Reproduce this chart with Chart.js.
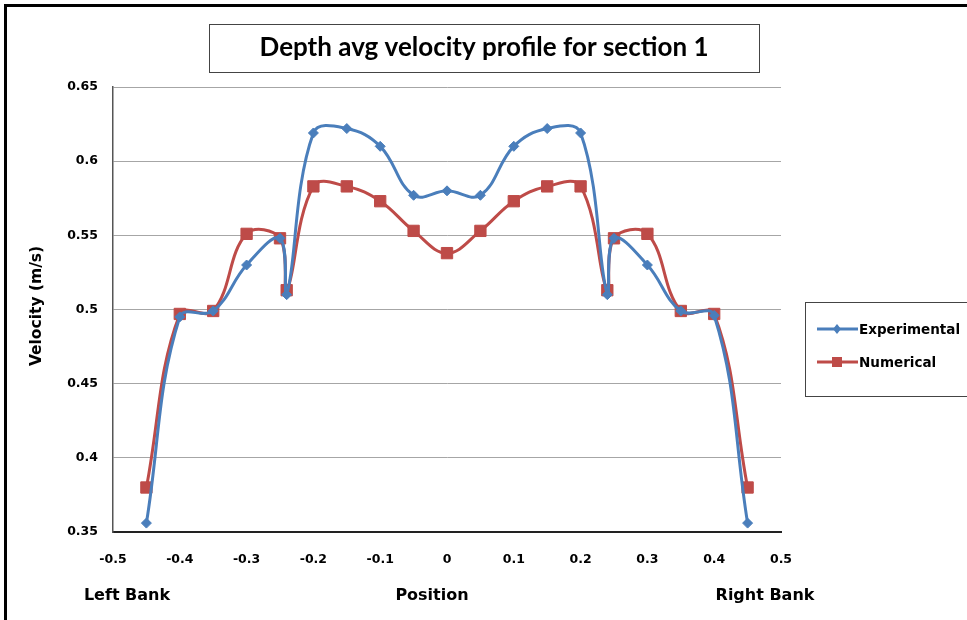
<!DOCTYPE html>
<html>
<head>
<meta charset="utf-8">
<script src="https://cdn.jsdelivr.net/npm/chart.js@4"></script>
<style>
  html, body { margin: 0; padding: 0; background: #fff; }
  canvas { display: block; }
</style>
</head>
<body>
<canvas id="profil" width="967" height="620"></canvas>
<script>
// titik ukur melintang saluran (posisi) dan kecepatan rata-rata kedalaman
const posisi = [-0.45, -0.4, -0.35, -0.3, -0.25, -0.24, -0.2, -0.15, -0.1, -0.05, 0,
                0.05, 0.1, 0.15, 0.2, 0.24, 0.25, 0.3, 0.35, 0.4, 0.45];
const eksperimen = [0.356, 0.495, 0.499, 0.530, 0.548, 0.510, 0.619, 0.622, 0.610, 0.577, 0.580,
                    0.577, 0.610, 0.622, 0.619, 0.510, 0.548, 0.530, 0.499, 0.496, 0.356];
const numerik = [0.380, 0.497, 0.499, 0.551, 0.548, 0.513, 0.583, 0.583, 0.573, 0.553, 0.538,
                 0.553, 0.573, 0.583, 0.583, 0.513, 0.548, 0.551, 0.499, 0.497, 0.380];
const namaSeri = ['Experimental', 'Numerical'];
const labelBawah = ['Left Bank', 'Position', 'Right Bank'];

const biru = '#4a7ebb';
const merah = '#be4b48';
const FONT = '"DejaVu Sans", sans-serif';
const FONT_JUDUL = 'Lato, "Open Sans", sans-serif';

function gabung(xs, ys) {
    return xs.map((x, i) => ({ x: x, y: ys[i] }));
}

// teks dan kotak di luar area grafik: bingkai, judul, label sumbu, legenda
const hiasan = {
    id: 'hiasan',
    afterDraw(chart) {
        const ctx = chart.ctx;
        ctx.save();

        // bingkai luar
        ctx.strokeStyle = '#000';
        ctx.lineWidth = 3;
        ctx.strokeRect(5.5, 5.5, 1100, 1100);

        // kotak judul
        ctx.lineWidth = 1;
        ctx.strokeStyle = '#444';
        ctx.strokeRect(209.5, 24.5, 550, 48);
        ctx.fillStyle = '#000';
        ctx.font = 'bold 26px ' + FONT_JUDUL;
        ctx.textAlign = 'center';
        ctx.textBaseline = 'middle';
        ctx.fillText('Depth avg velocity profile for section 1', 484, 48);

        // judul sumbu y
        ctx.save();
        ctx.translate(37, 306);
        ctx.rotate(-Math.PI / 2);
        ctx.font = 'bold 15.5px ' + FONT;
        ctx.fillText('Velocity (m/s)', 0, 0);
        ctx.restore();

        // label bawah
        ctx.font = 'bold 16px ' + FONT;
        ctx.fillText(labelBawah[0], 127, 596);
        ctx.fillText(labelBawah[1], 432, 596);
        ctx.fillText(labelBawah[2], 765, 596);

        // legenda
        ctx.strokeStyle = '#444';
        ctx.strokeRect(805.5, 302.5, 200, 94);
        ctx.textAlign = 'left';
        ctx.font = 'bold 13.5px ' + FONT;
        chart.data.datasets.forEach((ds, i) => {
            const y = 329 + i * 33;
            ctx.strokeStyle = ds.borderColor;
            ctx.lineWidth = 3;
            ctx.beginPath();
            ctx.moveTo(817, y);
            ctx.lineTo(858, y);
            ctx.stroke();
            ctx.fillStyle = ds.backgroundColor;
            ctx.beginPath();
            if (ds.pointStyle === 'rect') {
                ctx.fillRect(832, y - 5, 10, 10);
            } else {
                ctx.moveTo(837, y - 5);
                ctx.lineTo(841, y);
                ctx.lineTo(837, y + 5);
                ctx.lineTo(833, y);
                ctx.closePath();
                ctx.fill();
            }
            ctx.fillStyle = '#000';
            ctx.fillText(ds.label, 859, y + 1);
        });

        ctx.restore();
    }
};

const fmt = v => String(+Number(v).toFixed(2));

new Chart(document.getElementById('profil'), {
    type: 'scatter',
    data: {
        datasets: [
            {
                label: namaSeri[0],
                data: gabung(posisi, eksperimen),
                showLine: true,
                borderColor: biru,
                backgroundColor: biru,
                borderWidth: 3,
                pointStyle: 'rectRot',
                pointRadius: 5,
                pointBorderWidth: 1,
                tension: 0.4
            },
            {
                label: namaSeri[1],
                data: gabung(posisi, numerik),
                showLine: true,
                borderColor: merah,
                backgroundColor: merah,
                borderWidth: 3,
                pointStyle: 'rect',
                pointRadius: 8,
                pointBorderWidth: 1,
                tension: 0.4
            }
        ]
    },
    options: {
        responsive: false,
        animation: false,
        layout: { padding: { left: 0, top: 87, right: 186, bottom: 0 } },
        plugins: {
            legend: { display: false },
            tooltip: { enabled: false }
        },
        scales: {
            x: {
                type: 'linear',
                min: -0.5,
                max: 0.5,
                ticks: {
                    stepSize: 0.1,
                    padding: 20,
                    color: '#000',
                    font: { family: FONT, size: 12.5, weight: 'bold' },
                    callback: fmt
                },
                grid: { display: false, drawTicks: false },
                border: { display: true, color: '#222', width: 2 },
                afterFit(scale) { scale.height = 88; }
            },
            y: {
                min: 0.35,
                max: 0.65,
                ticks: {
                    stepSize: 0.05,
                    padding: 15,
                    color: '#000',
                    font: { family: FONT, size: 12.5, weight: 'bold' },
                    callback: fmt
                },
                grid: { color: '#a6a6a6', lineWidth: 1, drawTicks: false },
                border: { display: true, color: '#555', width: 1.5 },
                afterFit(scale) { scale.width = 113; }
            }
        }
    },
    plugins: [hiasan]
});
</script>
</body>
</html>
